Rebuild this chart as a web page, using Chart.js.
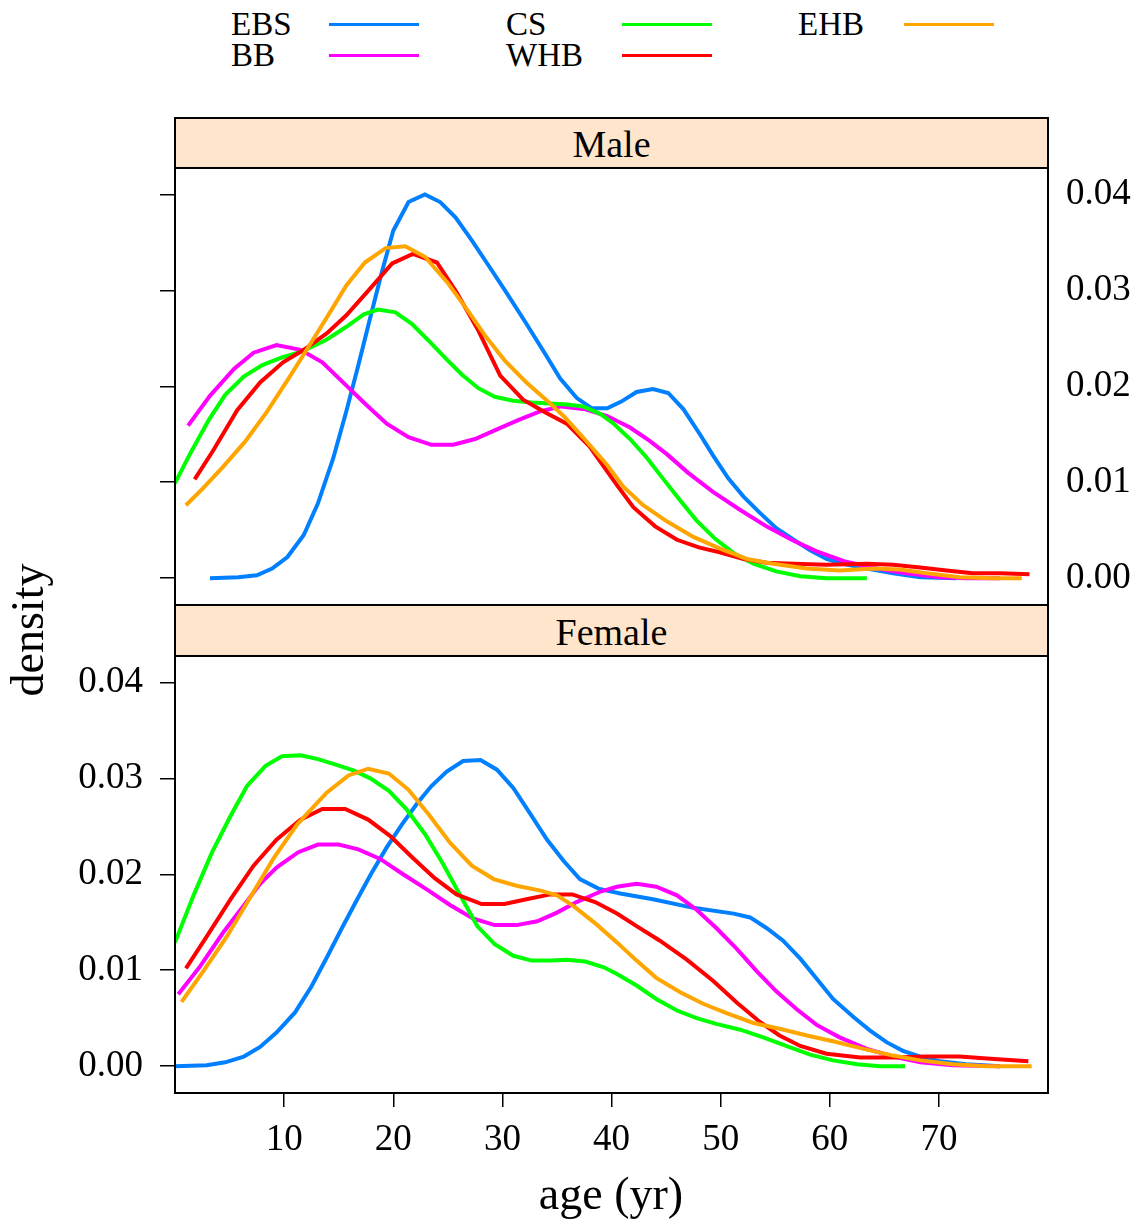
<!DOCTYPE html>
<html>
<head>
<meta charset="utf-8">
<title>density by age</title>
<script src="https://cdn.jsdelivr.net/npm/chart.js@4"></script>
<style>
  body { margin: 0; background: #fff; }
  #page { position: relative; width: 1144px; height: 1224px; font-family: "Liberation Serif", serif; color: #000; overflow: hidden; }
  .abs { position: absolute; white-space: nowrap; line-height: 1; }
  .key { font-size: 33px; }
  .keyline { position: absolute; height: 3px; width: 90px; }
  .strip { position: absolute; left: 174px; width: 875px; background: #ffe5cc; border: 2px solid #000; box-sizing: border-box; }
  .striptext { font-size: 38px; left: 175px; width: 873px; text-align: center; }
  canvas { position: absolute; left: 0; }
</style>
</head>
<body>
<div id="page">
  <div class="abs key" style="left:231px; top:8px;">EBS</div>
  <div class="keyline" style="left:329px; top:22.5px; background:#0080ff;"></div>
  <div class="abs key" style="left:231px; top:39px;">BB</div>
  <div class="keyline" style="left:329px; top:54px; background:#ff00ff;"></div>
  <div class="abs key" style="left:506px; top:8px;">CS</div>
  <div class="keyline" style="left:622px; top:22.5px; background:#00ff00;"></div>
  <div class="abs key" style="left:506px; top:39px;">WHB</div>
  <div class="keyline" style="left:622px; top:54px; background:#ff0000;"></div>
  <div class="abs key" style="left:798px; top:8px;">EHB</div>
  <div class="keyline" style="left:904px; top:22.5px; background:#ffa500;"></div>

  <div class="strip" style="top:117px; height:52px;"></div>
  <div class="abs striptext" style="top:125px;">Male</div>
  <div class="strip" style="top:604px; height:53px;"></div>
  <div class="abs striptext" style="top:613px;">Female</div>

  <canvas id="male" width="1144" height="457" style="top:158px;"></canvas>
  <canvas id="female" width="1144" height="578" style="top:646px;"></canvas>

  <div class="abs" style="font-size:46px; left:-122px; top:607px; width:300px; height:46px; line-height:46px; text-align:center; transform:rotate(-90deg);">density</div>
  <div class="abs" style="font-size:46px; left:461px; top:1171px; width:300px; text-align:center;">age (yr)</div>
</div>
<script>
const groups = ["EBS", "BB", "CS", "WHB", "EHB"];
const groupColors = ["#0080ff", "#ff00ff", "#00ff00", "#ff0000", "#ffa500"];
const xTicks = [10, 20, 30, 40, 50, 60, 70];
const yTicks = [0, 0.01, 0.02, 0.03, 0.04];

// [age, density]
const maleEBS = [[3.2,0],[5.8,0.0001],[7.5,0.0003],[8.9,0.0010],[10.3,0.0022],[11.8,0.0045],[13.1,0.0078],[14.5,0.0125],[15.7,0.0174],[16.8,0.0222],[17.9,0.0272],[19.0,0.0321],[20.0,0.0362],[21.4,0.0392],[22.9,0.0400],[24.3,0.0392],[25.7,0.0376],[27.2,0.0352],[28.9,0.0323],[30.4,0.0297],[32.1,0.0267],[33.8,0.0236],[35.3,0.0208],[36.8,0.0188],[38.2,0.0177],[39.6,0.0177],[40.9,0.0184],[42.3,0.0194],[43.8,0.0197],[45.2,0.0193],[46.6,0.0176],[48.1,0.0150],[49.3,0.0128],[50.7,0.0104],[52.1,0.0085],[53.6,0.0068],[55.1,0.0052],[56.7,0.0040],[58.2,0.0029],[59.7,0.0020],[61.2,0.0015],[63.4,0.0010],[65.8,0.0005],[68.3,0.0001],[71.6,0]];
const maleBB = [[1.2,0.0159],[3.2,0.0190],[5.4,0.0218],[7.2,0.0235],[9.3,0.0243],[11.5,0.0238],[13.5,0.0225],[15.4,0.0204],[17.4,0.0182],[19.4,0.0161],[21.4,0.0147],[23.5,0.0139],[25.5,0.0139],[27.5,0.0145],[29.5,0.0155],[31.5,0.0165],[33.5,0.0174],[35.4,0.0179],[37.6,0.0176],[39.6,0.0169],[41.7,0.0157],[43.5,0.0143],[45.1,0.0129],[47.0,0.0110],[49.3,0.0090],[51.8,0.0071],[54.2,0.0054],[56.5,0.0040],[58.8,0.0028],[61.5,0.0017],[64.3,0.0010],[67.0,0.0005],[70.1,0.0001],[72.5,0],[75.6,0]];
const maleCS = [[0,0.0099],[1.4,0.0130],[3.1,0.0165],[4.6,0.0191],[6.3,0.0210],[8.0,0.0222],[9.8,0.0230],[11.6,0.0236],[13.8,0.0248],[15.7,0.0262],[17.3,0.0275],[18.6,0.0280],[20.2,0.0277],[21.7,0.0265],[23.2,0.0248],[24.8,0.0229],[26.3,0.0212],[27.8,0.0198],[29.3,0.0189],[31.0,0.0185],[32.7,0.0183],[34.4,0.0182],[35.9,0.0181],[37.4,0.0179],[39.0,0.0171],[40.2,0.0161],[41.7,0.0145],[43.2,0.0126],[44.7,0.0104],[46.3,0.0081],[47.8,0.0060],[49.5,0.0041],[51.2,0.0026],[53.0,0.0015],[55.1,0.0007],[57.3,0.0002],[59.7,0],[63.4,0]];
const maleWHB = [[1.8,0.0103],[3.5,0.0133],[5.7,0.0175],[7.8,0.0204],[9.9,0.0225],[11.8,0.0238],[13.9,0.0255],[15.7,0.0274],[17.9,0.0302],[19.9,0.0328],[21.8,0.0338],[24.0,0.0329],[25.8,0.0298],[27.8,0.0258],[29.8,0.0211],[31.9,0.0186],[33.9,0.0173],[35.9,0.0161],[38.0,0.0137],[39.0,0.0121],[40.5,0.0097],[42.0,0.0074],[44.0,0.0054],[46.0,0.0040],[48.0,0.0032],[49.9,0.0027],[52.1,0.0020],[54.2,0.0016],[56.7,0.0015],[59.7,0.0014],[63.4,0.0015],[65.8,0.0014],[68.3,0.0011],[70.7,0.0008],[73.1,0.0005],[75.6,0.0005],[78.3,0.0004]];
const maleEHB = [[1.0,0.0076],[2.6,0.0094],[4.4,0.0116],[6.4,0.0142],[8.4,0.0173],[10.4,0.0208],[12.4,0.0244],[14.2,0.0277],[15.7,0.0305],[17.4,0.0329],[19.3,0.0344],[21.1,0.0346],[22.9,0.0335],[24.9,0.0309],[26.7,0.0281],[28.4,0.0253],[30.2,0.0227],[32.2,0.0204],[34.1,0.0185],[35.7,0.0168],[37.6,0.0144],[39.6,0.0118],[41.1,0.0095],[42.9,0.0076],[45.1,0.0059],[47.5,0.0043],[49.9,0.0031],[52.4,0.0020],[54.8,0.0015],[57.9,0.0010],[60.9,0.0008],[64.0,0.0010],[66.4,0.0009],[68.9,0.0005],[71.9,0.0001],[75.0,0],[77.6,0]];

const femaleEBS = [[0,0],[2.9,0.0001],[4.6,0.0004],[6.3,0.0010],[7.8,0.0020],[9.3,0.0035],[11.0,0.0056],[12.5,0.0083],[13.9,0.0113],[15.3,0.0144],[16.7,0.0174],[18.0,0.0201],[19.4,0.0228],[20.8,0.0252],[22.2,0.0274],[23.5,0.0292],[24.9,0.0307],[26.4,0.0318],[28.0,0.0319],[29.5,0.0309],[31.0,0.0290],[32.5,0.0264],[34.1,0.0236],[35.6,0.0214],[37.1,0.0195],[38.8,0.0185],[40.8,0.0180],[43.8,0.0174],[47.5,0.0165],[51.2,0.0159],[52.7,0.0155],[54.2,0.0144],[55.7,0.0131],[57.3,0.0112],[58.8,0.0091],[60.3,0.0070],[62.2,0.0051],[63.7,0.0037],[65.2,0.0025],[66.7,0.0016],[68.3,0.0010],[70.1,0.0005],[72.5,0.0002],[75.6,0]];
const femaleBB = [[0.3,0.0075],[2.3,0.0104],[4.4,0.0139],[6.6,0.0172],[7.8,0.0190],[9.3,0.0207],[11.3,0.0223],[13.1,0.0231],[15.0,0.0231],[16.8,0.0226],[18.8,0.0216],[20.9,0.0200],[23.1,0.0184],[25.2,0.0168],[27.3,0.0154],[29.3,0.0147],[31.3,0.0147],[33.2,0.0151],[35.0,0.0160],[36.8,0.0171],[39.0,0.0182],[40.5,0.0187],[42.3,0.0190],[44.1,0.0187],[46.0,0.0178],[47.8,0.0163],[49.6,0.0144],[51.5,0.0122],[53.3,0.0099],[55.1,0.0078],[57.0,0.0059],[58.8,0.0043],[60.9,0.0030],[63.4,0.0018],[65.8,0.0010],[68.3,0.0004],[71.3,0.0001],[75.6,0]];
const femaleCS = [[0,0.0129],[1.7,0.0178],[3.4,0.0223],[5.1,0.0261],[6.6,0.0292],[8.3,0.0313],[9.8,0.0323],[11.5,0.0324],[13.1,0.0320],[14.8,0.0314],[16.4,0.0308],[17.9,0.0300],[19.6,0.0287],[21.2,0.0268],[22.9,0.0242],[24.5,0.0212],[26.0,0.0181],[27.7,0.0146],[29.3,0.0127],[31.0,0.0115],[32.7,0.0110],[34.4,0.0110],[35.9,0.0111],[37.6,0.0109],[39.3,0.0103],[40.5,0.0096],[42.3,0.0084],[44.1,0.0070],[46.0,0.0058],[47.8,0.0050],[49.6,0.0044],[51.8,0.0038],[53.9,0.0030],[56.0,0.0021],[58.2,0.0012],[60.3,0.0006],[62.5,0.0002],[64.6,0],[66.9,0]];
const femaleWHB = [[1.0,0.0102],[2.9,0.0135],[5.1,0.0174],[7.2,0.0209],[9.3,0.0236],[11.5,0.0257],[13.5,0.0268],[15.6,0.0268],[17.7,0.0257],[19.7,0.0240],[21.8,0.0217],[23.8,0.0196],[25.8,0.0179],[28.1,0.0169],[30.2,0.0169],[32.2,0.0174],[34.4,0.0179],[36.4,0.0179],[38.5,0.0171],[40.5,0.0159],[42.3,0.0146],[44.4,0.0131],[46.9,0.0111],[49.3,0.0089],[51.5,0.0066],[53.6,0.0046],[55.4,0.0032],[57.3,0.0021],[59.7,0.0013],[62.8,0.0009],[65.8,0.0009],[68.9,0.0010],[71.9,0.0010],[74.4,0.0008],[78.2,0.0005]];
const femaleEHB = [[0.6,0.0067],[2.6,0.0099],[4.8,0.0136],[6.9,0.0176],[9.0,0.0216],[11.2,0.0252],[13.9,0.0285],[15.9,0.0303],[17.7,0.0310],[19.6,0.0305],[21.4,0.0288],[23.2,0.0263],[25.2,0.0233],[27.2,0.0209],[29.2,0.0195],[31.3,0.0188],[33.5,0.0183],[35.0,0.0178],[36.5,0.0167],[38.6,0.0148],[40.5,0.0129],[42.3,0.0110],[44.1,0.0092],[46.3,0.0077],[48.4,0.0065],[50.6,0.0055],[53.0,0.0045],[55.4,0.0039],[57.9,0.0032],[60.3,0.0026],[63.1,0.0018],[65.8,0.0011],[68.3,0.0006],[71.3,0.0002],[74.4,0],[78.5,0]];

const serif = "Liberation Serif";
const yMin = -0.0028;
const yMax = 0.04275;

// black frame round each panel
const panelBox = {
  id: "panelBox",
  afterDatasetsDraw(chart) {
    const a = chart.chartArea;
    const c = chart.ctx;
    c.save();
    c.strokeStyle = "#000";
    c.lineWidth = 2;
    c.strokeRect(a.left, a.top, a.right - a.left, a.bottom - a.top);
    c.restore();
  }
};

function noPad(s) {
  s.paddingTop = 0;
  s.paddingBottom = 0;
  s.paddingLeft = 0;
  s.paddingRight = 0;
}

function yAxis(position, showLabels, showTicks, width) {
  return {
    type: "linear",
    position: position,
    min: yMin,
    max: yMax,
    afterBuildTicks: (s) => { s.ticks = yTicks.map((v) => ({ value: v })); },
    afterFit: (s) => { s.width = width; noPad(s); },
    border: { display: false },
    grid: { display: showTicks, drawOnChartArea: false, drawTicks: showTicks, tickLength: 15, color: "#000", lineWidth: 1.5 },
    ticks: {
      display: showLabels,
      padding: showTicks ? 17 : 18,
      color: "#000",
      font: { family: serif, size: 37 },
      callback: (v) => v.toFixed(2)
    }
  };
}

function xAxis(show) {
  return {
    type: "linear",
    position: "bottom",
    min: 0,
    max: 80,
    display: show,
    afterBuildTicks: (s) => { s.ticks = xTicks.map((v) => ({ value: v })); },
    afterFit: (s) => { s.height = show ? 131 : 0; noPad(s); },
    border: { display: false },
    grid: { drawOnChartArea: false, tickLength: 14, color: "#000", lineWidth: 1.5 },
    ticks: { padding: 11, maxRotation: 0, color: "#000", font: { family: serif, size: 37 } }
  };
}

function lines(series) {
  return series.map((pts, i) => ({
    label: groups[i],
    data: pts.map((p) => ({ x: p[0], y: p[1] })),
    borderColor: groupColors[i],
    borderWidth: 4,
    pointRadius: 0,
    tension: 0,
    fill: false,
    order: groups.length - i
  }));
}

const common = {
  responsive: false,
  animation: false,
  plugins: { legend: { display: false }, tooltip: { enabled: false } }
};

new Chart(document.getElementById("male"), {
  type: "line",
  data: { datasets: lines([maleEBS, maleBB, maleCS, maleWHB, maleEHB]) },
  options: {
    ...common,
    layout: { padding: { top: 10, bottom: 10, left: 0, right: 0 } },
    scales: {
      x: xAxis(false),
      y: yAxis("left", false, true, 175),
      yR: yAxis("right", true, false, 96)
    }
  },
  plugins: [panelBox]
});

new Chart(document.getElementById("female"), {
  type: "line",
  data: { datasets: lines([femaleEBS, femaleBB, femaleCS, femaleWHB, femaleEHB]) },
  options: {
    ...common,
    layout: { padding: { top: 10, bottom: 0, left: 0, right: 96 } },
    scales: {
      x: xAxis(true),
      y: yAxis("left", true, true, 175)
    }
  },
  plugins: [panelBox]
});
</script>
</body>
</html>
